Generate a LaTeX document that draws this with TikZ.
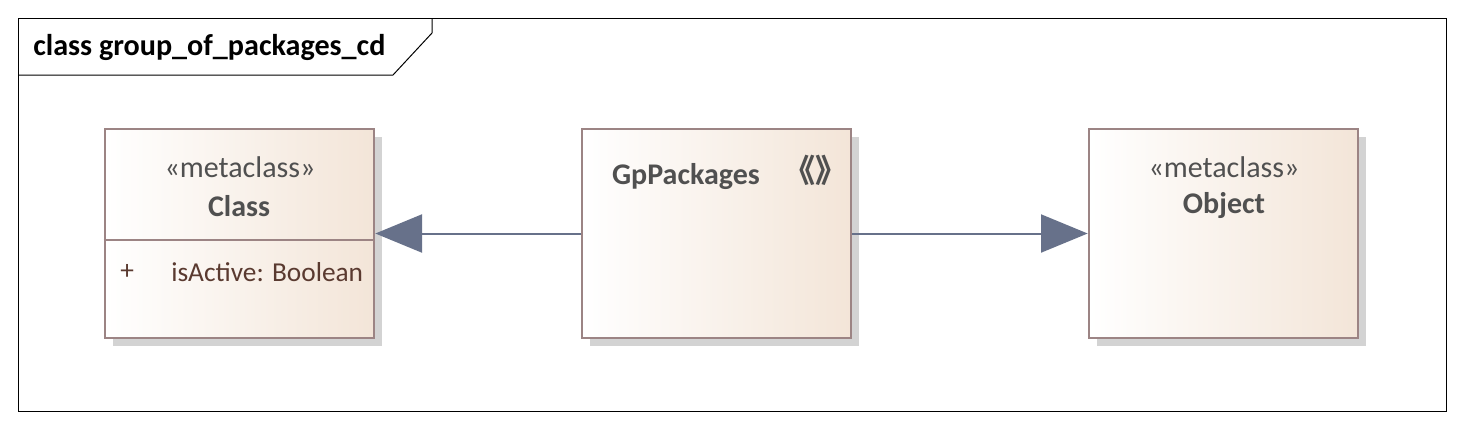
\documentclass[tikz,border=0pt]{standalone}
\usepackage{fontspec}
\setmainfont{Carlito}
\newfontfamily\cjkfont{Noto Sans CJK SC}
\usetikzlibrary{arrows.meta,shadows}

\definecolor{boxline}{HTML}{9C8484}
\definecolor{boxfill}{HTML}{F3E5D8}
\definecolor{shadowgray}{HTML}{D3D3D3}
\definecolor{linkblue}{HTML}{67718A}
\definecolor{namegray}{HTML}{505050}
\definecolor{attrbrown}{HTML}{5A3A30}

\tikzset{
	umlbox/.style={draw=boxline, line width=2pt, left color=white, right color=boxfill,
		minimum width=201.75pt, minimum height=156.75pt, inner sep=0pt,
		general shadow={fill=shadowgray, shadow xshift=6pt, shadow yshift=-6pt}},
	stereo/.style={inner sep=0pt, font=\fontsize{22.5}{26}\selectfont, text=namegray},
	classname/.style={inner sep=0pt, font=\fontsize{22.5}{26}\selectfont\bfseries, text=namegray},
	attrtext/.style={inner sep=0pt, anchor=west, font=\fontsize{20.5}{24}\selectfont, text=attrbrown},
	generalize/.style={draw=linkblue, line width=1.5pt, -{Triangle[length=35pt, width=28.5pt, fill=linkblue]}},
	frameline/.style={draw=black, line width=0.75pt}
}

\begin{document}
\begin{tikzpicture}[x=0.75pt, y=-0.75pt]
	\useasboundingbox (0,0) rectangle (1464,429);
	% diagram frame and its name tab
	\draw[frameline] (18,18) rectangle (1446,411);
	\draw[frameline] (18,75) -- (393,75) -- (432,33) -- (432,18);
	\node[inner sep=0pt, anchor=west, font=\fontsize{22.6}{26}\selectfont\bfseries] (title) at (33,47) {class group\_of\_packages\_cd};

	% the three classes
	\node[umlbox] (cls) at (239.5,233.5) {};
	\node[umlbox] (gp) at (716.5,233.5) {};
	\node[umlbox] (obj) at (1223.5,233.5) {};

	\coordinate (sepy) at (0,240);
	\draw[boxline, line width=2pt] (cls.west |- sepy) -- (cls.east |- sepy);

	\node[stereo] (clsstereo) at (240,167) {«metaclass»};
	\node[classname] (clsname) at (239,206) {Class};
	\node[attrtext] (clsvis) at (120,272) {+};
	\node[attrtext] (clsattr) at (171,272) {isActive: Boolean};

	\node[classname] (gpname) at (686,177) {GpPackages};
	\node[inner sep=0pt, font=\cjkfont\bfseries\fontsize{24}{28}\selectfont, text=namegray] (gpstereo) at (815,170) {《》};

	\node[stereo] (objstereo) at (1224,167) {«metaclass»};
	\node[classname] (objname) at (1224,206) {Object};

	% generalizations
	\draw[generalize] (gp.west) -- (cls.east);
	\draw[generalize] (gp.east) -- (obj.west);
\end{tikzpicture}
\end{document}
